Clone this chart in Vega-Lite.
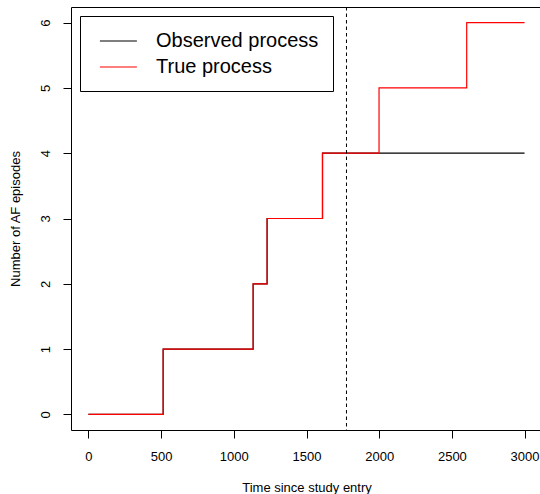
{
  "$schema": "https://vega.github.io/schema/vega-lite/v6.json",
  "width": 471,
  "height": 423,
  "autosize": {"type": "none"},
  "padding": {"left": 71, "top": 7, "right": -2, "bottom": 64},
  "background": "white",
  "config": {
    "view": {"stroke": "#000000", "strokeWidth": 1},
    "font": "Liberation Sans",
    "axis": {
      "domainColor": "#000000",
      "domainWidth": 1,
      "tickColor": "#000000",
      "tickWidth": 1,
      "tickSize": 8,
      "grid": false,
      "labelFont": "Liberation Sans",
      "labelFontSize": 13,
      "labelColor": "#000000",
      "titleFont": "Liberation Sans",
      "titleFontSize": 13,
      "titleFontWeight": "normal",
      "titleColor": "#000000"
    }
  },
  "datasets": {
    "steps": [
      {"series": "Observed process", "time": 0, "count": 0},
      {"series": "Observed process", "time": 514, "count": 1},
      {"series": "Observed process", "time": 1133, "count": 2},
      {"series": "Observed process", "time": 1229, "count": 3},
      {"series": "Observed process", "time": 1610, "count": 4},
      {"series": "Observed process", "time": 3000, "count": 4},
      {"series": "True process", "time": 0, "count": 0},
      {"series": "True process", "time": 514, "count": 1},
      {"series": "True process", "time": 1133, "count": 2},
      {"series": "True process", "time": 1229, "count": 3},
      {"series": "True process", "time": 1610, "count": 4},
      {"series": "True process", "time": 1999, "count": 5},
      {"series": "True process", "time": 2602, "count": 6},
      {"series": "True process", "time": 3000, "count": 6}
    ],
    "cutoff": [{"time": 1775}]
  },
  "layer": [
    {
      "data": {"name": "steps"},
      "mark": {"type": "line", "interpolate": "step-after", "strokeWidth": 1.2},
      "encoding": {
        "x": {
          "field": "time", "type": "quantitative",
          "scale": {"domain": [-120, 3120], "nice": false, "zero": false},
          "axis": {"values": [0, 500, 1000, 1500, 2000, 2500, 3000], "format": "d", "title": "Time since study entry", "labelPadding": 12, "titlePadding": 18, "domain": false}
        },
        "y": {
          "field": "count", "type": "quantitative",
          "scale": {"domain": [-0.24, 6.24], "nice": false, "zero": false},
          "axis": {"values": [0, 1, 2, 3, 4, 5, 6], "format": "d", "title": "Number of AF episodes", "labelAngle": 270, "labelAlign": "center", "labelBaseline": "alphabetic", "labelPadding": 14, "titlePadding": 17, "domain": false}
        },
        "color": {
          "field": "series", "type": "nominal",
          "scale": {"domain": ["Observed process", "True process"], "range": ["#000000", "#FF0000"]},
          "legend": {
            "title": null,
            "orient": "none",
            "legendX": 9,
            "legendY": 9,
            "strokeColor": "#000000",
            "fillColor": "#FFFFFF",
            "padding": 14,
            "symbolType": "M-1.85,0H1.85",
            "symbolSize": 400,
            "symbolStrokeWidth": 1.2,
            "symbolOffset": 13.4,
            "labelFontSize": 20,
            "labelFont": "Liberation Sans",
            "labelColor": "#000000",
            "labelLimit": 400,
            "labelOffset": 26.6,
            "rowPadding": 5
          }
        }
      }
    },
    {
      "data": {"name": "cutoff"},
      "mark": {"type": "rule", "strokeDash": [3.5, 3], "strokeWidth": 1, "color": "#000000"},
      "encoding": {
        "x": {"field": "time", "type": "quantitative"}
      }
    }
  ]
}
